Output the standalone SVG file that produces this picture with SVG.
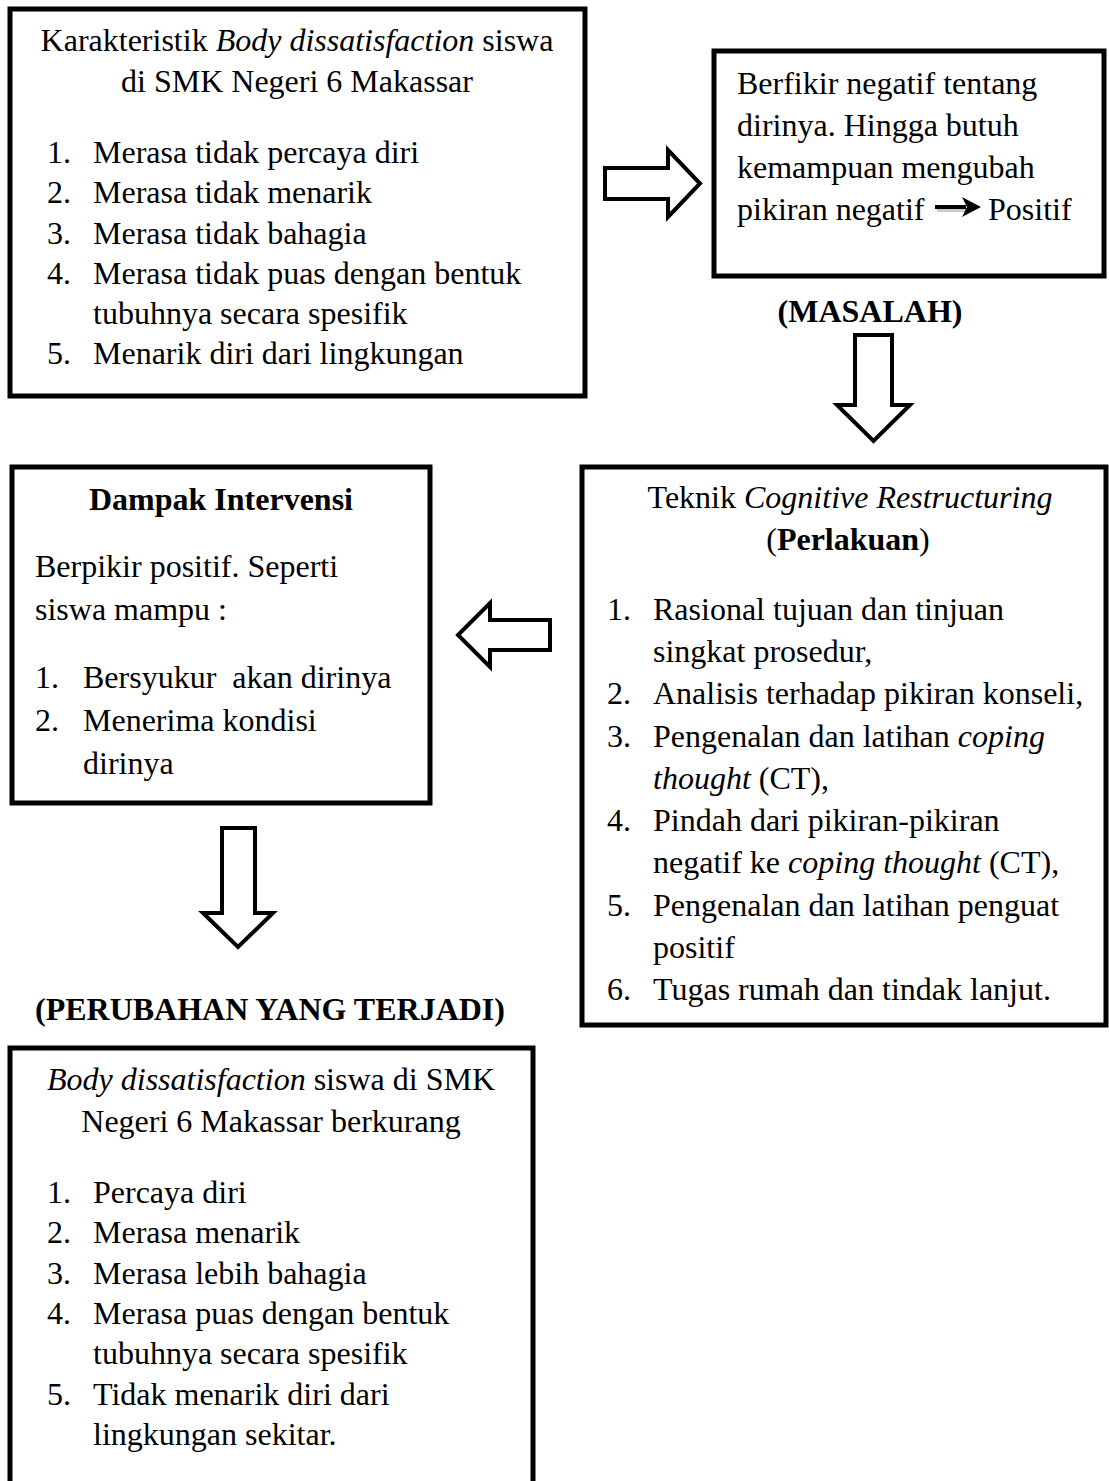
<svg xmlns="http://www.w3.org/2000/svg" width="1109" height="1481" viewBox="0 0 1109 1481">
<style>
  text { font-family: "Liberation Serif", "Times New Roman", serif; font-size: 32px; fill: #000; }
  .box { fill: #fff; stroke: #000; stroke-width: 5; }
  .hollow { fill: #fff; stroke: #000; stroke-width: 4; stroke-linejoin: miter; }
  .b { font-weight: bold; }
  .i { font-style: italic; }
  .c { text-anchor: middle; }
</style>
<rect width="1109" height="1481" fill="#fff"/>

<g id="node-karakteristik">
  <rect class="box" x="10" y="9" width="575" height="387"/>
  <text class="c" x="297" y="51">Karakteristik <tspan class="i">Body dissatisfaction</tspan> siswa</text>
  <text class="c" x="297" y="92">di SMK Negeri 6 Makassar</text>
  <text x="47" y="163">1.</text><text x="93" y="163">Merasa tidak percaya diri</text>
  <text x="47" y="203">2.</text><text x="93" y="203">Merasa tidak menarik</text>
  <text x="47" y="244">3.</text><text x="93" y="244">Merasa tidak bahagia</text>
  <text x="47" y="284">4.</text><text x="93" y="284">Merasa tidak puas dengan bentuk</text>
  <text x="93" y="324">tubuhnya secara spesifik</text>
  <text x="47" y="364">5.</text><text x="93" y="364">Menarik diri dari lingkungan</text>
</g>

<g id="node-masalah">
  <rect class="box" x="714" y="51" width="390" height="225"/>
  <text x="737" y="94">Berfikir negatif tentang</text>
  <text x="737" y="136">dirinya. Hingga butuh</text>
  <text x="737" y="178">kemampuan mengubah</text>
  <text x="737" y="220">pikiran negatif</text>
  <g id="inline-arrow">
    <line x1="936" y1="208" x2="966" y2="208" stroke="#999" stroke-width="4" opacity="0.5" transform="translate(1,2)"/>
    <line x1="935" y1="207" x2="966" y2="207" stroke="#000" stroke-width="4"/>
    <polygon points="962,197 981,207 962,217 967,207" fill="#000"/>
  </g>
  <text x="988" y="220">Positif</text>
  <text class="c b" x="870" y="322">(MASALAH)</text>
</g>

<g id="node-teknik">
  <rect class="box" x="582" y="467" width="524" height="558"/>
  <text class="c" x="850" y="508">Teknik <tspan class="i">Cognitive Restructuring</tspan></text>
  <text class="c" x="848" y="550">(<tspan class="b">Perlakuan</tspan>)</text>
  <text x="607" y="620">1.</text><text x="653" y="620">Rasional tujuan dan tinjuan</text>
  <text x="653" y="662">singkat prosedur,</text>
  <text x="607" y="704">2.</text><text x="653" y="704">Analisis terhadap pikiran konseli,</text>
  <text x="607" y="747">3.</text><text x="653" y="747">Pengenalan dan latihan <tspan class="i">coping</tspan></text>
  <text x="653" y="789"><tspan class="i">thought</tspan> (CT),</text>
  <text x="607" y="831">4.</text><text x="653" y="831">Pindah dari pikiran-pikiran</text>
  <text x="653" y="873">negatif ke <tspan class="i">coping thought</tspan> (CT),</text>
  <text x="607" y="916">5.</text><text x="653" y="916">Pengenalan dan latihan penguat</text>
  <text x="653" y="958">positif</text>
  <text x="607" y="1000">6.</text><text x="653" y="1000">Tugas rumah dan tindak lanjut.</text>
</g>

<g id="node-dampak">
  <rect class="box" x="12" y="467" width="418" height="336"/>
  <text class="c b" x="221" y="510">Dampak Intervensi</text>
  <text x="35" y="577">Berpikir positif. Seperti</text>
  <text x="35" y="620">siswa mampu :</text>
  <text x="35" y="688">1.</text><text x="83" y="688" xml:space="preserve">Bersyukur  akan dirinya</text>
  <text x="35" y="731">2.</text><text x="83" y="731">Menerima kondisi</text>
  <text x="83" y="774">dirinya</text>
</g>

<g id="node-perubahan">
  <text class="b" x="35" y="1020">(PERUBAHAN YANG TERJADI)</text>
  <rect class="box" x="10" y="1048" width="523" height="460"/>
  <text class="c" x="271" y="1090"><tspan class="i">Body dissatisfaction</tspan> siswa di SMK</text>
  <text class="c" x="271" y="1132">Negeri 6 Makassar berkurang</text>
  <text x="47" y="1203">1.</text><text x="93" y="1203">Percaya diri</text>
  <text x="47" y="1243">2.</text><text x="93" y="1243">Merasa menarik</text>
  <text x="47" y="1284">3.</text><text x="93" y="1284">Merasa lebih bahagia</text>
  <text x="47" y="1324">4.</text><text x="93" y="1324">Merasa puas dengan bentuk</text>
  <text x="93" y="1364">tubuhnya secara spesifik</text>
  <text x="47" y="1405">5.</text><text x="93" y="1405">Tidak menarik diri dari</text>
  <text x="93" y="1445">lingkungan sekitar.</text>
</g>

<g id="connectors">
  <polygon class="hollow" points="605,168 668,168 668,150 700,183.5 668,217 668,199 605,199"/>
  <polygon class="hollow" points="855,335 892,335 892,405 910,405 873.5,441 837,405 855,405"/>
  <polygon class="hollow" points="550,620 490,620 490,603 458,635 490,667 490,650 550,650"/>
  <polygon class="hollow" points="222,828 255,828 255,913 273,913 238,947 203,913 222,913"/>
</g>
</svg>
